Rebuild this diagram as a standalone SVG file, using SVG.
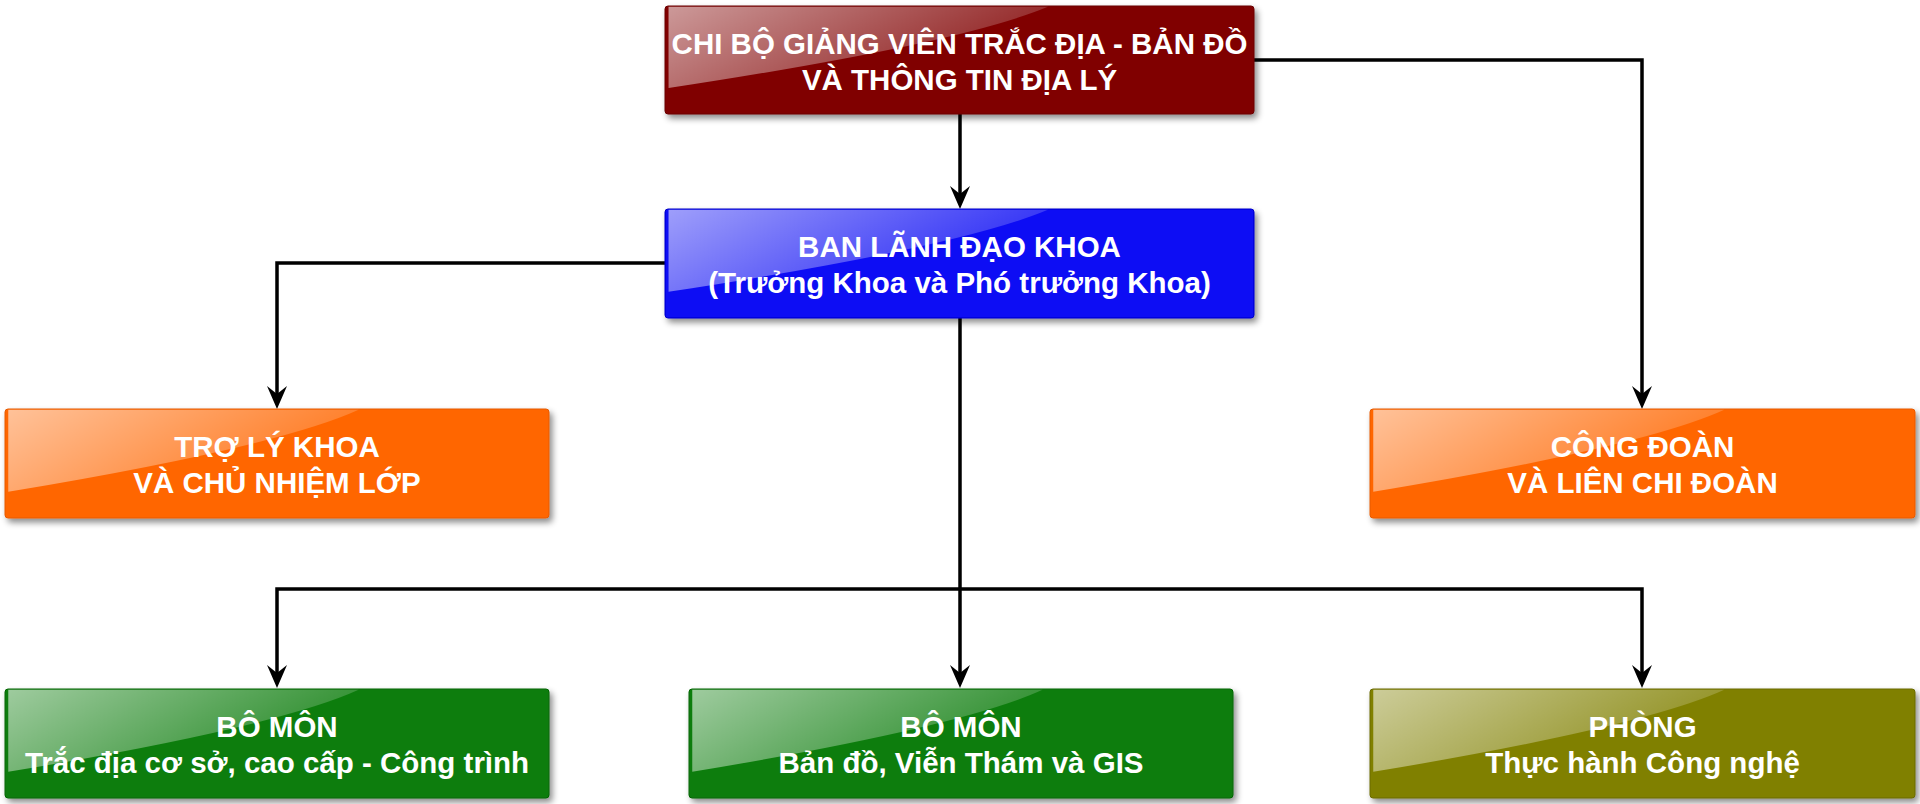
<svg xmlns="http://www.w3.org/2000/svg" xmlns:xlink="http://www.w3.org/1999/xlink" width="1920" height="804" viewBox="0 0 1920 804">
<defs>
<style>
.t{font-family:"Liberation Sans",Arial,sans-serif;font-weight:bold;font-size:29.5px;fill:#ffffff;text-anchor:middle}
.box{filter:url(#sh)}
.conn{fill:none;stroke:#000000;stroke-width:3.5}
</style>
<filter id="sh" x="-5%" y="-10%" width="112%" height="130%">
<feDropShadow dx="3" dy="4" stdDeviation="3" flood-color="#000000" flood-opacity="0.45"/>
</filter>
<linearGradient id="gl" x1="0" y1="0" x2="1" y2="0.4">
<stop offset="0" stop-color="#ffffff" stop-opacity="0.6"/>
<stop offset="1" stop-color="#ffffff" stop-opacity="0.12"/>
</linearGradient>
<path id="gloss" d="M0.6,0.8 H65 Q50,35 0.6,76 Z" fill="url(#gl)"/>
<marker id="arr" viewBox="0 -10 23 20" markerWidth="23" markerHeight="20" refX="8" refY="0" orient="auto" markerUnits="userSpaceOnUse">
<path d="M0,-10 L23,0 L0,10 L8,0 Z" fill="#000000"/>
</marker>
</defs>
<rect width="1920" height="804" fill="#ffffff"/>
<g id="connectors">
<path class="conn" d="M960,114 V194" marker-end="url(#arr)"/>
<path class="conn" d="M1254,60 H1642 V394" marker-end="url(#arr)"/>
<path class="conn" d="M665,263 H277 V394" marker-end="url(#arr)"/>
<path class="conn" d="M960,318 V673" marker-end="url(#arr)"/>
<path class="conn" d="M960,589 H277 V673" marker-end="url(#arr)"/>
<path class="conn" d="M960,589 H1642 V673" marker-end="url(#arr)"/>
</g>
<g id="chibo">
<rect class="box" x="665" y="6" width="589" height="108" rx="3" fill="#800000" stroke="#6a0000" stroke-width="1"/>
<use xlink:href="#gloss" transform="translate(665,6) scale(5.89,1.08)"/>
<text class="t" x="959.5" y="54">CHI BỘ GIẢNG VIÊN TRẮC ĐỊA - BẢN ĐỒ</text>
<text class="t" x="959.5" y="90">VÀ THÔNG TIN ĐỊA LÝ</text>
</g>
<g id="banlanhdao">
<rect class="box" x="665" y="209" width="589" height="109" rx="3" fill="#0c0cf4" stroke="#0000c8" stroke-width="1"/>
<use xlink:href="#gloss" transform="translate(665,209) scale(5.89,1.09)"/>
<text class="t" x="959.5" y="257">BAN LÃNH ĐẠO KHOA</text>
<text class="t" x="959.5" y="293">(Trưởng Khoa và Phó trưởng Khoa)</text>
</g>
<g id="troly">
<rect class="box" x="5" y="409" width="544" height="109" rx="3" fill="#ff6600" stroke="#e65a00" stroke-width="1"/>
<use xlink:href="#gloss" transform="translate(5,409) scale(5.44,1.09)"/>
<text class="t" x="277" y="457">TRỢ LÝ KHOA</text>
<text class="t" x="277" y="493">VÀ CHỦ NHIỆM LỚP</text>
</g>
<g id="congdoan">
<rect class="box" x="1370" y="409" width="545" height="109" rx="3" fill="#ff6600" stroke="#e65a00" stroke-width="1"/>
<use xlink:href="#gloss" transform="translate(1370,409) scale(5.45,1.09)"/>
<text class="t" x="1642.5" y="457">CÔNG ĐOÀN</text>
<text class="t" x="1642.5" y="493">VÀ LIÊN CHI ĐOÀN</text>
</g>
<g id="bomon1">
<rect class="box" x="5" y="689" width="544" height="109" rx="3" fill="#087d08" stroke="#066606" stroke-width="1"/>
<use xlink:href="#gloss" transform="translate(5,689) scale(5.44,1.09)"/>
<text class="t" x="277" y="737">BÔ MÔN</text>
<text class="t" x="277" y="773">Trắc địa cơ sở, cao cấp - Công trình</text>
</g>
<g id="bomon2">
<rect class="box" x="689" y="689" width="544" height="109" rx="3" fill="#087d08" stroke="#066606" stroke-width="1"/>
<use xlink:href="#gloss" transform="translate(689,689) scale(5.44,1.09)"/>
<text class="t" x="961" y="737">BÔ MÔN</text>
<text class="t" x="961" y="773">Bản đồ, Viễn Thám và GIS</text>
</g>
<g id="phong">
<rect class="box" x="1370" y="689" width="545" height="109" rx="3" fill="#808000" stroke="#6a6a00" stroke-width="1"/>
<use xlink:href="#gloss" transform="translate(1370,689) scale(5.45,1.09)"/>
<text class="t" x="1642.5" y="737">PHÒNG</text>
<text class="t" x="1642.5" y="773">Thực hành Công nghệ</text>
</g>
</svg>
